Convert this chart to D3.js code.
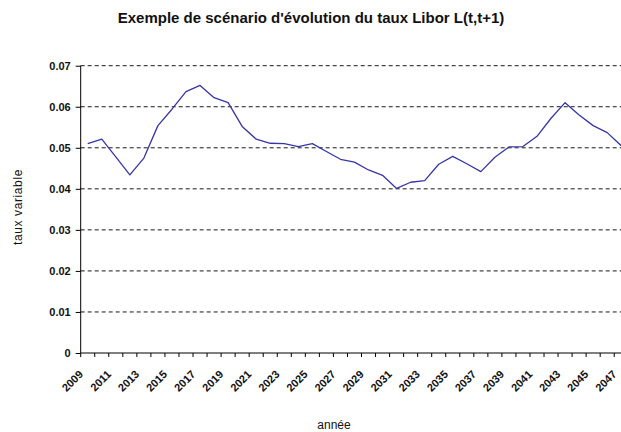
<!DOCTYPE html>
<html>
<head>
<meta charset="utf-8">
<script src="https://cdn.jsdelivr.net/npm/d3@7/dist/d3.min.js"></script>
<style>
  html, body { margin: 0; padding: 0; background: #fff; }
  svg { display: block; font-family: "Liberation Sans", Arial, sans-serif; }
</style>
</head>
<body>
<svg id="chart" width="621" height="432"></svg>
<script>
// Années du scénario
const years = d3.range(2009, 2048).map(String);
// Taux Libor L(t,t+1) simulé pour chaque année
const rates = [
  0.0510, 0.0521, 0.0478, 0.0434, 0.0475, 0.0554, 0.0594, 0.0637, 0.0652, 0.0622,
  0.0610, 0.0552, 0.0521, 0.0511, 0.0510, 0.0503, 0.0510, 0.0491, 0.0472, 0.0465,
  0.0446, 0.0433, 0.0401, 0.0416, 0.0420, 0.0460, 0.0479, 0.0461, 0.0442, 0.0477,
  0.0502, 0.0503, 0.0528, 0.0572, 0.0610, 0.0580, 0.0554, 0.0537, 0.0505
];
// Graduations de l'axe vertical
const yTicks = [0, 0.01, 0.02, 0.03, 0.04, 0.05, 0.06, 0.07];
// Années affichées sous l'axe horizontal (une sur deux)
const xLabels = years.filter((d, i) => i % 2 === 0);

const title = "Exemple de scénario d'évolution du taux Libor L(t,t+1)";
const yTitle = "taux variable";
const xTitle = "année";

(function draw() {
  const svg = d3.select("#chart");
  const plotLeft = 80.7, plotTop = 65.7, plotBottom = 353;
  const step = 14.04;

  const x = d3.scaleBand().domain(years).range([plotLeft, plotLeft + years.length * step]).padding(0);
  const y = d3.scaleLinear().domain([0, 0.07]).range([plotBottom, plotTop]);

  // Quadrillage horizontal en pointillés
  svg.append("g")
    .selectAll("line")
    .data(yTicks.filter(d => d > 0))
    .join("line")
    .attr("x1", plotLeft).attr("x2", x.range()[1])
    .attr("y1", d => y(d)).attr("y2", d => y(d))
    .attr("stroke", "#1a1a1a")
    .attr("stroke-width", 1)
    .attr("stroke-dasharray", "4,3");

  // Axe vertical
  const yAxis = svg.append("g")
    .attr("transform", `translate(${plotLeft},0)`)
    .call(d3.axisLeft(y).tickValues(yTicks).tickSize(5).tickPadding(5)
      .tickFormat(d => d === 0 ? "0" : d.toFixed(2)));
  yAxis.select(".domain").attr("stroke", "#000").attr("d", `M0,${y(0.07)}V${y(0)}`);
  yAxis.selectAll(".tick line").attr("stroke", "#000");
  yAxis.selectAll("text")
    .attr("font-size", 11)
    .attr("font-weight", "bold")
    .attr("fill", "#111")
    .attr("font-family", "Liberation Sans, Arial, sans-serif");

  // Axe horizontal : traits entre les catégories
  svg.append("line")
    .attr("x1", plotLeft).attr("x2", x.range()[1])
    .attr("y1", plotBottom).attr("y2", plotBottom)
    .attr("stroke", "#000");
  const tickPos = years.map(d => x(d)).concat([x.range()[1]]);
  svg.append("g")
    .selectAll("line")
    .data(tickPos)
    .join("line")
    .attr("x1", d => d).attr("x2", d => d)
    .attr("y1", plotBottom).attr("y2", plotBottom + 4)
    .attr("stroke", "#000");

  // Libellés des années, inclinés
  svg.append("g")
    .selectAll("text")
    .data(xLabels)
    .join("text")
    .attr("transform", d => `translate(${x(d) + x.bandwidth() / 2 - 4},${plotBottom + 22}) rotate(-45)`)
    .attr("text-anchor", "end")
    .attr("font-size", 11)
    .attr("font-weight", "bold")
    .attr("fill", "#111")
    .text(d => d);

  // Courbe du taux
  const line = d3.line()
    .x((d, i) => x(years[i]) + x.bandwidth() / 2)
    .y(d => y(d));
  svg.append("path")
    .datum(rates)
    .attr("d", line)
    .attr("fill", "none")
    .attr("stroke", "#3636a8")
    .attr("stroke-width", 1.3)
    .attr("stroke-linejoin", "round");

  // Titres
  svg.append("text")
    .attr("x", 311).attr("y", 23)
    .attr("text-anchor", "middle")
    .attr("font-size", 15)
    .attr("font-weight", "bold")
    .attr("fill", "#111")
    .text(title);

  svg.append("text")
    .attr("transform", `translate(22,207) rotate(-90)`)
    .attr("text-anchor", "middle")
    .attr("font-size", 12)
    .attr("letter-spacing", 0.6)
    .attr("fill", "#111")
    .text(yTitle);

  svg.append("text")
    .attr("x", 334).attr("y", 429)
    .attr("text-anchor", "middle")
    .attr("font-size", 12)
    .attr("fill", "#111")
    .text(xTitle);
})();
</script>
</body>
</html>
